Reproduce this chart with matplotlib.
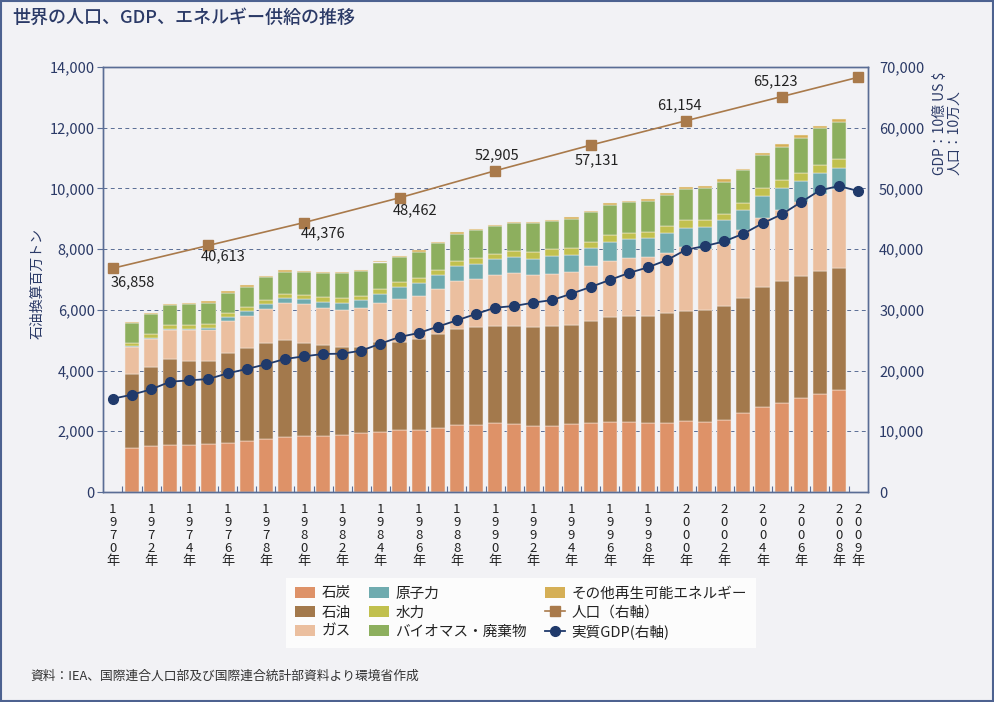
import matplotlib
matplotlib.use('Agg')
import matplotlib.pyplot as plt
import numpy as np
from matplotlib.patches import Patch, Rectangle
from matplotlib.lines import Line2D

plt.rcParams['font.family'] = ['Noto Sans CJK JP', 'DejaVu Sans']

# ---------------- data ----------------
bar_years = list(range(1971, 2009))
coal = [1460, 1504, 1548, 1548, 1592, 1625, 1669, 1746, 1801, 1845,
        1845, 1878, 1933, 1966, 2042, 2042, 2119, 2207, 2207, 2262,
        2229, 2185, 2185, 2229, 2262, 2306, 2306, 2262, 2262, 2339,
        2306, 2383, 2602, 2811, 2932, 3107, 3228, 3360]
oil = [2438, 2613, 2822, 2778, 2734, 2954, 3074, 3173, 3195, 3074,
       2986, 2909, 2854, 2986, 2910, 3008, 3086, 3162, 3217, 3206,
       3239, 3239, 3283, 3283, 3371, 3459, 3502, 3546, 3623, 3623,
       3700, 3755, 3788, 3953, 4008, 3997, 4052, 4029]
gas = [878, 923, 955, 999, 1000, 1060, 1065, 1098, 1241, 1263,
       1219, 1208, 1263, 1263, 1395, 1406, 1471, 1581, 1592, 1680,
       1735, 1724, 1724, 1724, 1811, 1855, 1889, 1933, 1977, 2097,
       2010, 2031, 2229, 2273, 2349, 2449, 2526, 2592]
nuclear = [40, 35, 44, 55, 90, 115, 150, 176, 150, 165,
           210, 240, 260, 320, 395, 420, 460, 490, 500, 516,
           549, 538, 593, 582, 594, 626, 637, 637, 680, 648,
           724, 780, 670, 724, 725, 702, 713, 702]
hydro = [95, 120, 132, 132, 130, 140, 136, 143, 140, 140,
         150, 150, 155, 160, 170, 165, 170, 170, 180, 187,
         197, 209, 220, 220, 197, 209, 198, 197, 209, 253,
         220, 219, 220, 242, 252, 253, 252, 296]
biomass = [648, 659, 659, 681, 692, 670, 669, 735, 730, 749,
           800, 816, 815, 865, 815, 870, 890, 900, 935, 900,
           901, 955, 911, 966, 977, 1010, 1021, 1022, 1021, 1010,
           1065, 1055, 1086, 1098, 1110, 1165, 1230, 1220]
other_renew = [40, 43, 44, 33, 44, 44, 45, 44, 43, 55,
               37, 46, 44, 55, 44, 55, 55, 40, 45, 44,
               44, 44, 44, 44, 44, 55, 44, 44, 66, 66,
               66, 76, 55, 55, 77, 76, 55, 88]

gdp_years = list(range(1970, 2010))
gdp = [15370, 16030, 16909, 18170, 18390, 18611, 19545, 20258, 21027, 21905,
       22345, 22729, 22784, 23278, 24431, 25529, 26188, 27231, 28274, 29317,
       30360, 30634, 31183, 31622, 32665, 33764, 34916, 36069, 37002, 38210,
       39912, 40516, 41284, 42547, 44249, 45732, 47709, 49685, 50399, 49575]

pop_years = [1970, 1975, 1980, 1985, 1990, 1995, 2000, 2005, 2009]
population = [36858, 40613, 44376, 48462, 52905, 57131, 61154, 65123, 68300]
pop_labels = ['36,858', '40,613', '44,376', '48,462', '52,905', '57,131', '61,154', '65,123', '']

series_names = ['石炭', '石油', 'ガス', '原子力', '水力', 'バイオマス・廃棄物', 'その他再生可能エネルギー']
line_names = ['人口（右軸）', '実質GDP(右軸)']
tick_years = list(range(1970, 2009, 2)) + [2009]

title = '世界の人口、GDP、エネルギー供給の推移'
left_label = '石油換算百万トン'
right_label = 'GDP：10億 US $\n人口：10万人'
source = '資料：IEA、国際連合人口部及び国際連合統計部資料より環境省作成'

# ---------------- style ----------------
BG = '#f2f2f5'
NAVY = '#2b3a67'
FRAME = '#5a6d95'
colors = ['#de9268', '#a3794c', '#ebbf9f', '#6fabaf', '#c1c04e', '#8daf5e', '#d5af56']
POP_C = '#a97a4b'
GDP_C = '#203a6b'

fig = plt.figure(figsize=(9.94, 7.02), dpi=100, facecolor=BG)
ax = fig.add_axes([103 / 994, 1 - 492 / 702, 765 / 994, 425 / 702])
ax.set_facecolor(BG)
ax.set_axisbelow(True)
ax.set_xlim(1969.48, 2009.52)
ax.set_ylim(0, 14000)

stack = [coal, oil, gas, nuclear, hydro, biomass, other_renew]
bottom = np.zeros(len(bar_years))
for vals, c in zip(stack, colors):
    v = np.array(vals, dtype=float)
    ax.bar(bar_years, v, bottom=bottom, width=0.74, color=c,
           edgecolor='#f6eee6', linewidth=0.35, zorder=2)
    bottom += v

ax.set_yticks(np.arange(0, 14001, 2000))
ax.set_yticklabels([f'{v:,}' for v in range(0, 14001, 2000)])
ax.yaxis.grid(True, color=FRAME, linestyle=(0, (4, 3.5)), linewidth=0.7, zorder=0)
ax.tick_params(axis='y', colors=FRAME, labelcolor=NAVY, labelsize=10.5,
               length=4, width=0.8, direction='out', pad=2)

ax.set_xticks(tick_years)
ax.set_xticklabels(['\n'.join(list(str(y)) + ['年']) for y in tick_years],
                   linespacing=1.0)
ax.set_xticks([y + 0.5 for y in range(1970, 2009)], minor=True)
ax.tick_params(axis='x', which='major', length=0, labelsize=9.5,
               labelcolor='#222222', pad=8)
ax.tick_params(axis='x', which='minor', length=4, width=0.8,
               direction='in', colors=FRAME)
for s in ax.spines.values():
    s.set_color(FRAME)
    s.set_linewidth(1.0)

ax2 = ax.twinx()
ax2.set_ylim(0, 70000)
ax2.set_yticks(np.arange(0, 70001, 10000))
ax2.set_yticklabels([f'{v:,}' for v in range(0, 70001, 10000)])
ax2.tick_params(axis='y', length=0, labelcolor=NAVY, labelsize=10.5, pad=8)
for s in ax2.spines.values():
    s.set_color(FRAME)
    s.set_linewidth(1.0)

ax2.plot(pop_years, population, color=POP_C, linewidth=1.2, marker='s',
         markersize=7, markerfacecolor=POP_C, markeredgecolor=POP_C, zorder=4)
ax2.plot(gdp_years, gdp, color=GDP_C, linewidth=1.3, marker='o',
         markersize=7, markerfacecolor=GDP_C, markeredgecolor=GDP_C, zorder=5)

offsets = [(20, -14), (15, -11), (19, -11), (16, -13), (2, 15), (6, -15),
           (-7, 15), (-6, 15), (0, 0)]
for x, y, lab, (dx, dy) in zip(pop_years, population, pop_labels, offsets):
    if lab:
        ax2.annotate(lab, (x, y), xytext=(dx * 0.72, dy * 0.72),
                     textcoords='offset points', ha='center', va='center',
                     fontsize=10.5, color='#222222', zorder=6)

# labels
fig.text(38 / 994, 1 - 283 / 702, left_label, rotation=90, ha='center',
         va='center', fontsize=10, color=NAVY)
fig.text(947 / 994, 1 - 175 / 702, right_label, rotation=90, ha='center',
         va='bottom', multialignment='left', fontsize=10, color=NAVY,
         linespacing=1.0)
fig.text(12 / 994, 1 - 18 / 702, title, ha='left', va='center',
         fontsize=13, fontweight='medium', color=NAVY)
fig.text(30 / 994, 1 - 676 / 702, source, ha='left', va='center',
         fontsize=9.2, color='#333333')

# legend
handles = [Patch(facecolor=c, edgecolor='none') for c in colors]
handles += [Line2D([0], [0], color=POP_C, lw=1.2, marker='s', markersize=7),
            Line2D([0], [0], color=GDP_C, lw=1.3, marker='o', markersize=7)]
leg = fig.legend(handles, series_names + line_names, ncol=3, loc='center',
                 bbox_to_anchor=(521 / 994, 1 - 613 / 702), frameon=True,
                 fancybox=False, facecolor='white', edgecolor='none',
                 fontsize=10.5, handlelength=1.4, handleheight=0.8,
                 handletextpad=0.45, columnspacing=1.2, labelspacing=0.35,
                 borderpad=0.6)
for t in leg.get_texts():
    t.set_color('#222222')

fig.patches.append(Rectangle((0.001, 0.001), 0.998, 0.997,
                             transform=fig.transFigure, fill=False,
                             edgecolor='#4d6290', linewidth=1.5))

fig.savefig('out.png', dpi=100, facecolor=BG)
